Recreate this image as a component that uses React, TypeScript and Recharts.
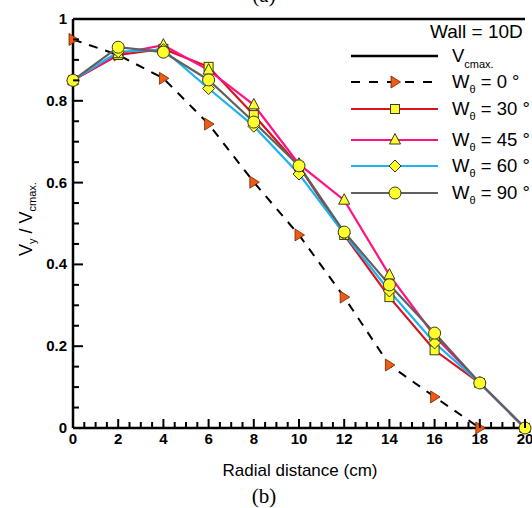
import React from 'react';
import { LineChart, Line, XAxis, YAxis } from 'recharts';

const xs = [0, 2, 4, 6, 8, 10, 12, 14, 16, 18, 20];
const vcmax = [1, 1, 1, 1, 1, 1, 1, 1, 1, 1, 1];
const w0 = [0.95, 0.912, 0.855, 0.743, 0.601, 0.472, 0.32, 0.154, 0.076, 0, null];
const w30 = [0.85, 0.912, 0.927, 0.883, 0.765, 0.64, 0.472, 0.32, 0.19, 0.11, 0];
const w45 = [0.85, 0.915, 0.936, 0.875, 0.79, 0.645, 0.557, 0.374, 0.225, 0.11, 0];
const w60 = [0.85, 0.92, 0.925, 0.83, 0.738, 0.621, 0.475, 0.335, 0.208, 0.11, 0];
const w90 = [0.85, 0.931, 0.919, 0.851, 0.748, 0.641, 0.479, 0.35, 0.232, 0.11, 0];

const xMajorTicks = [0, 2, 4, 6, 8, 10, 12, 14, 16, 18, 20];
const yMajorTicks = [0, 0.2, 0.4, 0.6, 0.8, 1];
const xAllTicks = Array.from({ length: 41 }, (_, i) => i * 0.5);
const yAllTicks = Array.from({ length: 21 }, (_, i) => Math.round(i * 5) / 100);
const topTicks = Array.from({ length: 21 }, (_, i) => i);

const data = xs.map((x, i) => ({ x, vcmax: vcmax[i], w0: w0[i], w30: w30[i], w45: w45[i], w60: w60[i], w90: w90[i] }));

const FONT = '"Liberation Sans", Arial, Helvetica, sans-serif';
const YELLOW = '#ffff2e';
const MSTROKE = '#3a3a1a';
const ORANGE = '#f25a14';
const RED = '#d9141c';
const PINK = '#ff1282';
const BLUE = '#1db2f2';
const GRAY = '#606060';

type Shape = 'square' | 'triUp' | 'diamond' | 'circle' | 'triRight';

const Marker = ({ shape, cx, cy }: { shape: Shape; cx: number; cy: number }) => {
  switch (shape) {
    case 'square':
      return <rect x={cx - 4.5} y={cy - 4.5} width={9} height={9} fill={YELLOW} stroke={MSTROKE} strokeWidth={1} />;
    case 'triUp':
      return <polygon points={`${cx},${cy - 6.5} ${cx - 5.5},${cy + 4} ${cx + 5.5},${cy + 4}`} fill={YELLOW} stroke={MSTROKE} strokeWidth={1} />;
    case 'diamond':
      return <polygon points={`${cx},${cy - 6} ${cx + 6},${cy} ${cx},${cy + 6} ${cx - 6},${cy}`} fill={YELLOW} stroke={MSTROKE} strokeWidth={1} />;
    case 'circle':
      return <circle cx={cx} cy={cy} r={6} fill={YELLOW} stroke={MSTROKE} strokeWidth={1} />;
    case 'triRight':
      return <polygon points={`${cx - 4},${cy - 6} ${cx + 5.5},${cy} ${cx - 4},${cy + 6}`} fill={ORANGE} stroke="#6a2400" strokeWidth={0.8} />;
  }
  return null;
};

const dotFor = (shape: Shape) => (props: any) => {
  const { cx, cy, index, value } = props;
  if (cx == null || cy == null || value == null || Number.isNaN(cy)) return <g key={`d-${shape}-${index}`} />;
  return <Marker key={`d-${shape}-${index}`} shape={shape} cx={cx} cy={cy} />;
};

const isMajor = (v: number, list: number[]) => list.some((m) => Math.abs(m - v) < 1e-6);

const XTick = (props: any) => {
  const { x, y, payload } = props;
  const v = payload.value;
  const major = isMajor(v, xMajorTicks);
  return (
    <g>
      <line x1={x} x2={x} y1={y} y2={y - (major ? 9 : 6)} stroke="#000" strokeWidth={2} />
      {major && (
        <text x={x} y={y + 16} textAnchor="middle" fontFamily={FONT} fontWeight="bold" fontSize={15} fill="#000">
          {String(v)}
        </text>
      )}
    </g>
  );
};

const YTick = (props: any) => {
  const { x, y, payload } = props;
  const v = payload.value;
  const major = isMajor(v, yMajorTicks);
  return (
    <g>
      <line x1={x} x2={x + (major ? 10 : 6)} y1={y} y2={y} stroke="#000" strokeWidth={2} />
      {major && (
        <text x={x - 6} y={y + 5} textAnchor="end" fontFamily={FONT} fontWeight="bold" fontSize={15} fill="#000">
          {String(Number(v.toFixed(2)))}
        </text>
      )}
    </g>
  );
};

const TopTick = (props: any) => {
  const { x, y } = props;
  return <line x1={x} x2={x} y1={y} y2={y + 3} stroke="#777" strokeWidth={1} />;
};

const legendRows: { key: string; color: string; dash?: string; shape?: Shape; label: string; y: number }[] = [
  { key: 'vcmax', color: '#000', label: 'V', y: 56 },
  { key: 'w0', color: '#000', dash: '9 9', shape: 'triRight', label: '0', y: 82 },
  { key: 'w30', color: RED, shape: 'square', label: '30', y: 109 },
  { key: 'w45', color: PINK, shape: 'triUp', label: '45', y: 140 },
  { key: 'w60', color: BLUE, shape: 'diamond', label: '60', y: 166 },
  { key: 'w90', color: GRAY, shape: 'circle', label: '90', y: 193 },
];

export default function App() {
  return (
    <div style={{ position: 'absolute', left: 0, top: 0, width: 532, height: 508, background: '#fff' }}>
      <LineChart width={532} height={508} data={data} margin={{ top: 19, right: 7, bottom: 50, left: 0 }}>
        <XAxis
          xAxisId="top"
          orientation="top"
          dataKey="x"
          type="number"
          domain={[0, 20]}
          ticks={topTicks}
          interval={0}
          axisLine={false}
          tickLine={false}
          tickSize={0}
          tickMargin={0}
          height={0}
          tick={<TopTick />}
        />
        <XAxis
          dataKey="x"
          type="number"
          domain={[0, 20]}
          ticks={xAllTicks}
          interval={0}
          axisLine={{ stroke: '#000', strokeWidth: 2.5 }}
          tickLine={false}
          tickSize={0}
          tickMargin={0}
          height={30}
          tick={<XTick />}
        />
        <YAxis
          type="number"
          domain={[0, 1]}
          ticks={yAllTicks}
          interval={0}
          axisLine={{ stroke: '#000', strokeWidth: 2.5 }}
          tickLine={false}
          tickSize={0}
          tickMargin={0}
          width={73}
          tick={<YTick />}
        />
        <Line dataKey="vcmax" stroke="#000" strokeWidth={2.5} dot={false} isAnimationActive={false} />
        <Line dataKey="w0" stroke="#000" strokeWidth={2} strokeDasharray="9 8" dot={dotFor('triRight')} isAnimationActive={false} />
        <Line dataKey="w30" stroke={RED} strokeWidth={2.2} dot={dotFor('square')} isAnimationActive={false} />
        <Line dataKey="w45" stroke={PINK} strokeWidth={2.2} dot={dotFor('triUp')} isAnimationActive={false} />
        <Line dataKey="w60" stroke={BLUE} strokeWidth={2.2} dot={dotFor('diamond')} isAnimationActive={false} />
        <Line dataKey="w90" stroke={GRAY} strokeWidth={2.2} dot={dotFor('circle')} isAnimationActive={false} />
      </LineChart>
      <svg width={532} height={508} style={{ position: 'absolute', left: 0, top: 0, pointerEvents: 'none' }}>
        <text x={264} y={2} textAnchor="middle" fontFamily='"Liberation Serif", "Times New Roman", serif' fontSize={21} fill="#000">(a)</text>
        <text x={430} y={38} fontFamily={FONT} fontSize={19} fill="#000">Wall = 10D</text>
        {legendRows.map((r) => (
          <g key={r.key}>
            <line x1={351} x2={438} y1={r.y} y2={r.y} stroke={r.color} strokeWidth={r.key === 'vcmax' ? 2.5 : 2.2} strokeDasharray={r.dash} />
            {r.shape && <Marker shape={r.shape} cx={395} cy={r.y} />}
            {r.key === 'vcmax' ? (
              <text x={452} y={r.y + 6} fontFamily={FONT} fontSize={18.5} fill="#000">
                V<tspan fontSize={11} dy={6}>cmax.</tspan>
              </text>
            ) : (
              <text x={452} y={r.y + 6} fontFamily={FONT} fontSize={18.5} fill="#000">
                W<tspan fontSize={11} dy={5}>θ</tspan>
                <tspan dy={-5}>{` = ${r.label} °`}</tspan>
              </text>
            )}
          </g>
        ))}
        <text transform="translate(32,219) rotate(-90)" textAnchor="middle" fontFamily={FONT} fontSize={18} fill="#000">
          V<tspan fontSize={11} dy={4}>y</tspan>
          <tspan dy={-4}> / V</tspan>
          <tspan fontSize={11} dy={4}>cmax.</tspan>
        </text>
        <text x={300} y={476} textAnchor="middle" fontFamily={FONT} fontSize={17} fill="#000">Radial distance (cm)</text>
        <text x={264} y={503} textAnchor="middle" fontFamily='"Liberation Serif", "Times New Roman", serif' fontSize={21} fill="#000">(b)</text>
      </svg>
    </div>
  );
}
